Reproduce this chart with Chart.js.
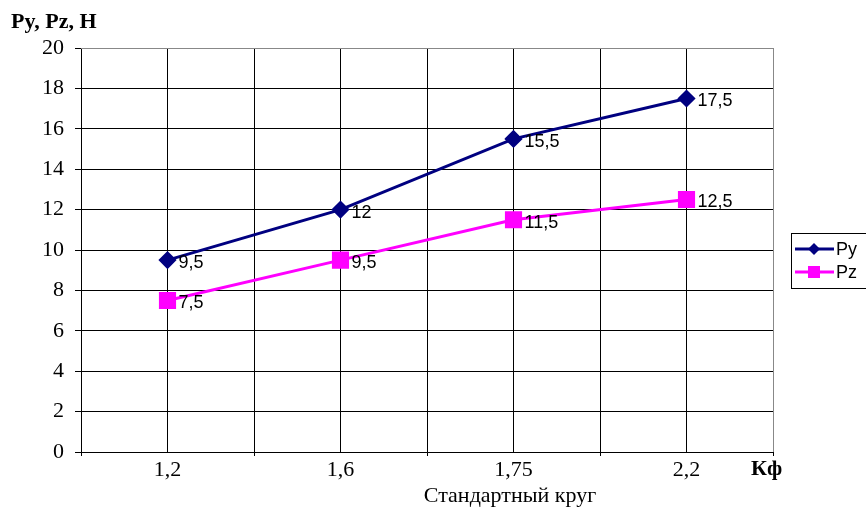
<!DOCTYPE html>
<html>
<head>
<meta charset="utf-8">
<script src="https://cdn.jsdelivr.net/npm/chart.js@4/dist/chart.umd.min.js"></script>
<style>
  html, body { margin: 0; padding: 0; background: #fff; }
  #wrap { width: 866px; height: 508px; }
</style>
</head>
<body>
<div id="wrap"><canvas id="chart" width="866" height="508"></canvas></div>
<script>
// данные графика
const categories = ['1,2', '1,6', '1,75', '2,2'];
const pyValues = [9.5, 12, 15.5, 17.5];
const pzValues = [7.5, 9.5, 11.5, 12.5];
const yTicks = [0, 2, 4, 6, 8, 10, 12, 14, 16, 18, 20];

const SERIF = '"Liberation Serif", "Times New Roman", serif';
const SANS = '"Liberation Sans", Arial, sans-serif';

// точки по центрам категорий
function toPoints(vals) {
    return vals.map((v, i) => ({ x: i + 0.5, y: v }));
}

function fmt(v) {
    return String(v).replace('.', ',');
}

// подписи значений, заголовки и легенда
const extrasPlugin = {
    id: 'extras',
    afterDatasetsDraw(chart) {
        const ctx = chart.ctx;
        ctx.save();
        ctx.fillStyle = '#000';
        ctx.font = '18px ' + SANS;
        ctx.textAlign = 'left';
        ctx.textBaseline = 'middle';
        chart.data.datasets.forEach((ds, di) => {
            const meta = chart.getDatasetMeta(di);
            meta.data.forEach((pt, i) => {
                ctx.fillText(fmt(ds.data[i].y), pt.x + 11, pt.y + 3);
            });
        });
        ctx.restore();
    },
    afterDraw(chart) {
        const ctx = chart.ctx;
        const a = chart.chartArea;
        ctx.save();
        // серая рамка сверху и справа
        ctx.strokeStyle = '#888';
        ctx.lineWidth = 1;
        ctx.beginPath();
        ctx.moveTo(a.left, a.top + 0.5);
        ctx.lineTo(a.right + 0.5, a.top + 0.5);
        ctx.lineTo(a.right + 0.5, a.bottom);
        ctx.stroke();

        ctx.fillStyle = '#000';
        ctx.textBaseline = 'middle';
        ctx.font = 'bold 22px ' + SERIF;
        ctx.textAlign = 'left';
        ctx.fillText('Py, Pz, H', 11, 22);
        ctx.fillText('Кф', 751, 469);
        ctx.font = '22px ' + SERIF;
        ctx.textAlign = 'center';
        ctx.fillText('Стандартный круг', 510, 496);

        // легенда
        const lx = 791, ly = 233;
        ctx.strokeStyle = '#000';
        ctx.lineWidth = 1;
        ctx.strokeRect(lx + 0.5, ly + 0.5, 90, 55);
        ctx.font = '18px ' + SANS;
        ctx.textAlign = 'left';
        chart.data.datasets.forEach((ds, di) => {
            const y = ly + 16 + di * 23;
            ctx.strokeStyle = ds.borderColor;
            ctx.lineWidth = 3;
            ctx.beginPath();
            ctx.moveTo(795, y);
            ctx.lineTo(834, y);
            ctx.stroke();
            ctx.fillStyle = ds.borderColor;
            const cx = 814;
            if (di === 0) {
                ctx.beginPath();
                ctx.moveTo(cx, y - 6);
                ctx.lineTo(cx + 6, y);
                ctx.lineTo(cx, y + 6);
                ctx.lineTo(cx - 6, y);
                ctx.closePath();
                ctx.fill();
            } else {
                ctx.fillRect(cx - 6, y - 6, 12, 12);
            }
            ctx.fillStyle = '#000';
            ctx.fillText(ds.label, 836, y + 1);
        });
        ctx.restore();
    }
};

new Chart(document.getElementById('chart'), {
    type: 'line',
    data: {
        datasets: [
            {
                label: 'Py',
                data: toPoints(pyValues),
                borderColor: '#000080',
                backgroundColor: '#000080',
                borderWidth: 3,
                pointStyle: 'rectRot',
                pointRadius: 7,
                pointHoverRadius: 7,
                tension: 0
            },
            {
                label: 'Pz',
                data: toPoints(pzValues),
                borderColor: '#FF00FF',
                backgroundColor: '#FF00FF',
                borderWidth: 3,
                pointStyle: 'rect',
                pointRadius: 10,
                pointHoverRadius: 10,
                tension: 0
            }
        ]
    },
    options: {
        responsive: false,
        animation: false,
        layout: { padding: { top: 48, right: 93, bottom: 0, left: 0 } },
        plugins: {
            legend: { display: false },
            tooltip: { enabled: false }
        },
        scales: {
            x: {
                type: 'linear',
                min: 0,
                max: categories.length,
                afterFit: s => { s.height = 56; },
                afterBuildTicks: s => {
                    const t = [];
                    for (let v = 0; v <= categories.length; v += 0.5) t.push({ value: v });
                    s.ticks = t;
                },
                ticks: {
                    autoSkip: false,
                    maxRotation: 0,
                    color: '#000',
                    padding: 1,
                    font: { family: SERIF, size: 22 },
                    callback: v => (v % 1 === 0.5 ? categories[v - 0.5] : '')
                },
                grid: {
                    color: c => (c.tick && c.tick.value === categories.length ? '#888' : '#000'),
                    tickColor: c => (c.tick && c.tick.value % 1 === 0 ? '#000' : 'rgba(0,0,0,0)'),
                    tickLength: 4,
                    lineWidth: 1
                },
                border: { color: '#000', width: 1 }
            },
            y: {
                min: 0,
                max: 20,
                afterFit: s => { s.width = 81; },
                afterBuildTicks: s => { s.ticks = yTicks.map(v => ({ value: v })); },
                ticks: {
                    color: '#000',
                    padding: 11,
                    font: { family: SERIF, size: 22 }
                },
                grid: {
                    color: c => (c.tick && c.tick.value === 20 ? '#888' : '#000'),
                    tickColor: '#000',
                    tickLength: 6,
                    lineWidth: 1
                },
                border: { color: '#000', width: 1 }
            }
        }
    },
    plugins: [extrasPlugin]
});
</script>
</body>
</html>
